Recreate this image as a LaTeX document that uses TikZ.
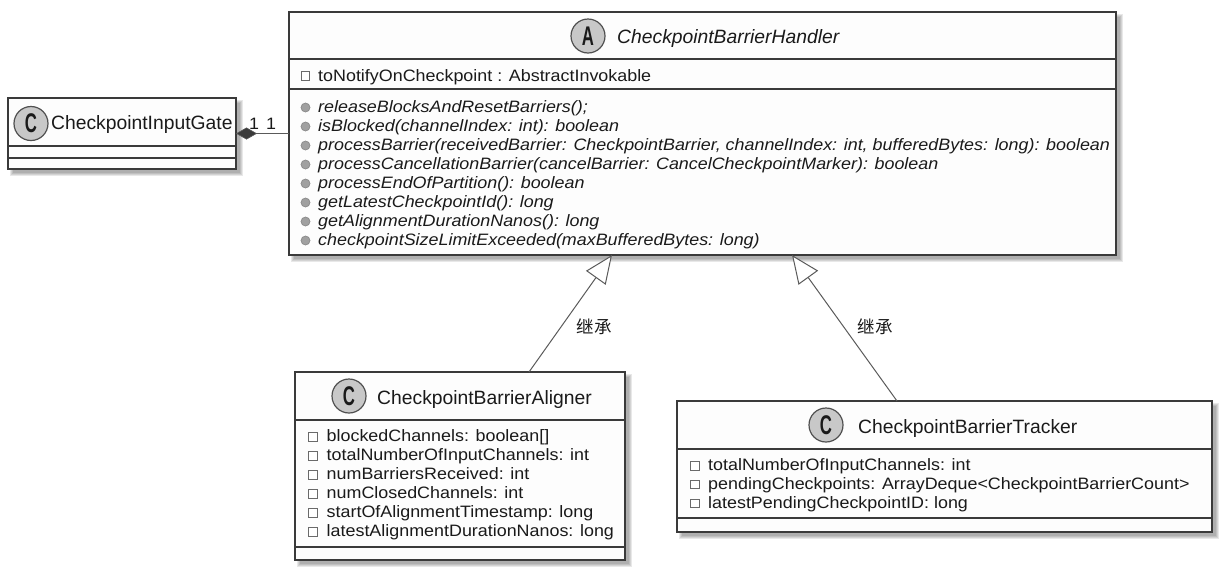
\documentclass[tikz,border=0pt]{standalone}
\usepackage{fontspec}
\setmainfont{Liberation Sans}
\newfontfamily\attrfont[FakeStretch=1.085]{Liberation Sans}
\newfontfamily\titlefont{Liberation Sans}
\newfontfamily\spotfont{Liberation Sans}
\newfontfamily\cjk{Noto Sans CJK SC}
\usetikzlibrary{arrows.meta}
\definecolor{border}{HTML}{3A3A3A}
\definecolor{boxfill}{HTML}{FDFDFD}
\definecolor{textcol}{HTML}{1A1A1A}
\definecolor{spotfill}{HTML}{C8C8C8}
\definecolor{spotline}{HTML}{505050}
\definecolor{methfill}{HTML}{A0A0A0}
\definecolor{methline}{HTML}{8A8A8A}
\definecolor{sqline}{HTML}{6A6A6A}
\definecolor{arrowcol}{HTML}{5A5A5A}
\newcommand\boxshadow[4]{%
  \foreach \k in {0,1,2,3}{%
    \fill[black,opacity=0.09] ({#1+5-\k},{#2+5-\k}) rectangle ({#3+4+\k},{#4+4+\k});}}
\begin{document}
\begin{tikzpicture}[x=1pt,y=-1pt,
  umlbox/.style={draw=border, line width=1.4pt, fill=boxfill, inner sep=0pt, outer sep=0pt, rectangle},
  sepline/.style={draw=border, line width=1.4pt},
  attr/.style={anchor=base west, inner sep=0pt, text=textcol, font=\attrfont\fontsize{16.5}{19}\selectfont},
  meth/.style={anchor=base west, inner sep=0pt, text=textcol, font=\attrfont\itshape\fontsize{16.5}{19}\selectfont},
  classtitle/.style={anchor=base west, inner sep=0pt, text=textcol, font=\titlefont\fontsize{19.3}{23}\selectfont},
  spot/.style={circle, minimum size=34pt, inner sep=0pt, fill=spotfill, draw=spotline, line width=1.2pt,
    font=\spotfont\bfseries\fontsize{27}{27}\selectfont, text=textcol},
  sqicon/.style={rectangle, minimum size=8.5pt, inner sep=0pt, draw=sqline, line width=0.8pt, fill=white},
  meicon/.style={circle, minimum size=9pt, inner sep=0pt, draw=methline, line width=0.7pt, fill=methfill},
  mult/.style={anchor=base, inner sep=0pt, text=textcol, font=\attrfont\fontsize{16.5}{19}\selectfont},
  relabel/.style={inner sep=0pt, text=textcol, font=\cjk\fontsize{17.5}{20}\selectfont},
  inherit/.style={draw=arrowcol, line width=1pt, -{Triangle[length=28pt,width=24pt,fill=white,line width=1pt]}},
  compose/.style={draw=arrowcol, line width=1pt, -{Diamond[length=21pt,width=12pt,fill=border,line width=0.6pt]}}
]
\useasboundingbox (0,0) rectangle (1230,574);

% shadows
\boxshadow{8}{98}{236}{169}
\boxshadow{289}{12}{1116}{255}
\boxshadow{295}{372}{625}{560}
\boxshadow{677}{401}{1212}{532}

% ---------- CheckpointInputGate ----------
\node[umlbox, minimum width=228pt, minimum height=71pt] (gate) at (122,133.5) {};
\draw[sepline] (gate.west |- 0,146) -- (gate.east |- 0,146);
\draw[sepline] (gate.west |- 0,158) -- (gate.east |- 0,158);
\node[spot] (gatespot) at (31,123.5) {\scalebox{0.62}[1]{C}};
\node[classtitle] (gatetitle) at (51,129) {CheckpointInputGate};

% ---------- CheckpointBarrierHandler ----------
\node[umlbox, minimum width=827pt, minimum height=243pt] (handler) at (702.5,133.5) {};
\draw[sepline] (handler.west |- 0,59) -- (handler.east |- 0,59);
\draw[sepline] (handler.west |- 0,89) -- (handler.east |- 0,89);
\node[spot] (handlerspot) at (588,36) {\scalebox{0.62}[1]{A}};
\node[classtitle, font=\titlefont\itshape\fontsize{19.3}{23}\selectfont] (handlertitle) at (617,43) {CheckpointBarrierHandler};
\node[sqicon] (hai1) at (305.5,76) {};
\node[attr] (ha1) at (318,81) {toNotifyOnCheckpoint : AbstractInvokable};
\foreach \t [count=\i] in {
  {releaseBlocksAndResetBarriers();},
  {isBlocked(channelIndex: int): boolean},
  {processBarrier(receivedBarrier: CheckpointBarrier, channelIndex: int, bufferedBytes: long): boolean},
  {processCancellationBarrier(cancelBarrier: CancelCheckpointMarker): boolean},
  {processEndOfPartition(): boolean},
  {getLatestCheckpointId(): long},
  {getAlignmentDurationNanos(): long},
  {checkpointSizeLimitExceeded(maxBufferedBytes: long)}}{
  \node[meicon] (hmi\i) at (305.5,{107.5+19*(\i-1)}) {};
  \node[meth] (hm\i) at (318,{112.5+19*(\i-1)}) {\t};
}

% ---------- CheckpointBarrierAligner ----------
\node[umlbox, minimum width=330pt, minimum height=188pt] (aligner) at (460,466) {};
\draw[sepline] (aligner.west |- 0,420) -- (aligner.east |- 0,420);
\draw[sepline] (aligner.west |- 0,547) -- (aligner.east |- 0,547);
\node[spot] (alignerspot) at (349,396) {\scalebox{0.62}[1]{C}};
\node[classtitle] (alignertitle) at (377,404) {CheckpointBarrierAligner};
\foreach \t [count=\i] in {
  {blockedChannels: boolean[]},
  {totalNumberOfInputChannels: int},
  {numBarriersReceived: int},
  {numClosedChannels: int},
  {startOfAlignmentTimestamp: long},
  {latestAlignmentDurationNanos: long}}{
  \node[sqicon] (aai\i) at (313,{436.7+19*(\i-1)}) {};
  \node[attr] (aa\i) at (326.5,{441.7+19*(\i-1)}) {\t};
}

% ---------- CheckpointBarrierTracker ----------
\node[umlbox, minimum width=535pt, minimum height=131pt] (tracker) at (944.5,466.5) {};
\draw[sepline] (tracker.west |- 0,449) -- (tracker.east |- 0,449);
\draw[sepline] (tracker.west |- 0,518) -- (tracker.east |- 0,518);
\node[spot] (trackerspot) at (826,425) {\scalebox{0.62}[1]{C}};
\node[classtitle] (trackertitle) at (858,433) {CheckpointBarrierTracker};
\foreach \t [count=\i] in {
  {totalNumberOfInputChannels: int},
  {pendingCheckpoints: ArrayDeque<CheckpointBarrierCount>},
  {latestPendingCheckpointID: long}}{
  \node[sqicon] (tai\i) at (695,{465.8+18.8*(\i-1)}) {};
  \node[attr] (ta\i) at (708,{470.8+18.8*(\i-1)}) {\t};
}

% ---------- connectors ----------
\draw[compose] (handler.west) -- (gate.east);
\node[mult] (m1) at (254,129) {1};
\node[mult] (m2) at (271,129) {1};

\draw[inherit] ([xshift=234pt]aligner.north west) -- ([xshift=323pt]handler.south west);
\draw[inherit] ([xshift=220pt]tracker.north west) -- ([xshift=503pt]handler.south west);
\node[relabel] (lab1) at (594,327) {继承};
\node[relabel] (lab2) at (875,327) {继承};
\end{tikzpicture}
\end{document}
